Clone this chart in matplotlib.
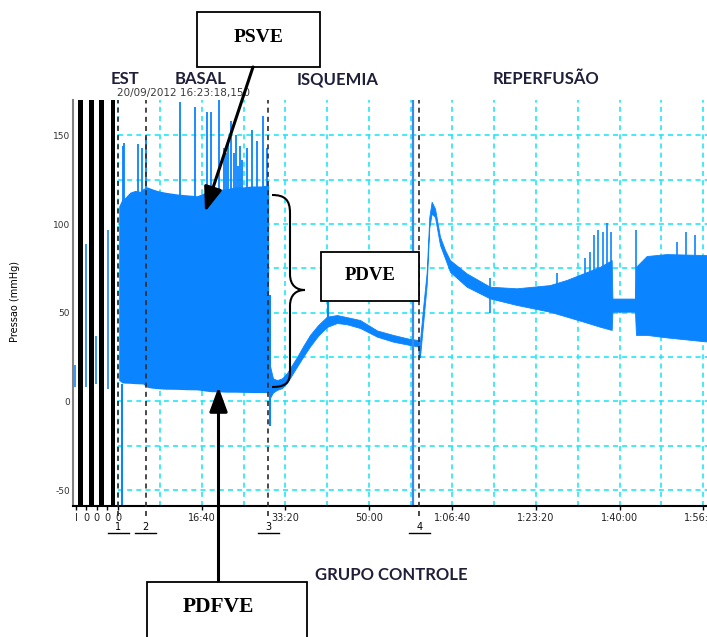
import matplotlib
matplotlib.use('Agg')
import matplotlib.pyplot as plt
from matplotlib.patches import Rectangle, PathPatch
from matplotlib.path import Path

# =========================
# DATA (time in s, pressure in mmHg)
# =========================
# compressed "EST" strip left of t = 0
bar_t = [-452, -323, -199, -63]
pre_t = [-518, -390, -267, -123]
pre_lo = [8, 8, 10, 7]
pre_hi = [20.5, 88.5, 37, 96.5]

# BASAL envelope
basal_t = [5, 44, 80, 140, 200, 260, 296, 344, 400, 464, 560, 704, 820, 944,
           1020, 1100, 1200, 1304, 1400, 1496, 1600, 1700, 1785, 1800]
basal_hi = [110, 114, 115, 118, 119, 118.5, 120, 121, 120, 119, 118, 117, 116.5, 116,
            117.5, 118.5, 119.5, 120, 121, 121, 121.5, 121.5, 122, 122]
basal_lo = [12, 10.5, 10.3, 10.2, 10, 9.9, 9.8, 8, 7.5, 7.2, 6.9, 6.8, 6.6, 6.5,
            6, 5.5, 5.4, 5.2, 5.2, 5.1, 5, 5, 5, 5]
basal_spk_t = [53, 68, 232, 284, 328, 739, 918, 1058, 1106, 1209, 1265, 1289, 1313,
               1345, 1385, 1409, 1433, 1457, 1481, 1537, 1597, 1657, 1736, 1776]
basal_spk = [144, 146, 145, 143, 149, 169, 166, 163, 163.5, 170, 143, 140, 145,
             158, 140, 150, 133, 144, 136, 143, 153, 147, 161, 143]

# ISQUEMIA envelope
isq_t = [1816, 1852, 1900, 1960, 2020, 2079, 2139, 2211, 2295, 2391, 2498, 2618,
         2738, 2894, 3098, 3289, 3492, 3600]
isq_hi = [20, 13, 12, 13, 16, 20.5, 25, 31, 37.5, 43, 47.8, 48.7,
          47.5, 45.9, 40, 37.5, 35.2, 34.6]
isq_lo = [2, 5, 6.5, 7.5, 10.4, 15, 19.6, 25, 31, 37, 42, 44.2,
          43.5, 41.4, 36.5, 33.7, 31.8, 30.9]

# REPERFUSAO envelope
rep_t = [3611, 3651, 3692, 3723, 3751, 3791, 3851, 3911, 3971, 4170, 4449, 4769,
         5164, 5367, 5566, 5766, 5906, 5915, 6185, 6197, 6325, 6564, 7060]
rep_hi = [34, 54, 73, 104, 112.6, 108.8, 92.9, 85.4, 79.7, 72.2, 64.7, 63.8,
          65.6, 68.5, 72.2, 75.9, 79.7, 58, 58, 75.9, 82, 83.1, 82.5]
rep_lo = [25, 45, 66, 98, 106, 104, 88.2, 80.7, 73.1, 64.7, 58.1, 54.4,
          50.6, 47.8, 45, 42.1, 40.3, 50.6, 50.6, 37.5, 37.5, 36.1, 33.7]
rep_spk_t = [4449, 5248, 5586, 5646, 5698, 5746, 5805, 5846, 5898, 6193, 6684, 6795, 6903]
rep_spk = [69.4, 72.2, 80.7, 84.4, 93.8, 96.6, 95.7, 100.4, 95.7, 96.6, 90, 95.7, 93.8]

# single excursions
drop_t = [44, 1815, 2510]
drop_lo = [-59, -14, 44]
drop_hi = [10, 60, 56]
blue_line_t = 3524

# event markers
marker_t = [0, 328, 1795, 3603]
marker_lbl = ['1', '2', '3', '4']

xtick_t = [-506, -387, -259, -132, 0, 1000, 2000, 3000, 4000, 5000, 6000, 7000]
xtick_lbl = ['I', '0', '0', '0', '0', '16:40', '33:20', '50:00',
             '1:06:40', '1:23:20', '1:40:00', '1:56:40']
ytick_v = [-50, 0, 50, 100, 150]

# =========================
# FIGURE
# =========================
W, H = 707, 637
fig = plt.figure(figsize=(W / 100, H / 100), dpi=100)
ax = fig.add_axes([73 / W, 1 - 506 / H, (W - 73) / W, 406 / H])

XMIN, XMAX = -542, 7047
YMIN, YMAX = -59, 170
ax.set_xlim(XMIN, XMAX)
ax.set_ylim(YMIN, YMAX)

BLUE = '#0a84ff'
CYAN = '#22e6f5'

# grid only on the recorded part
ax.vlines(range(0, 7001, 500), YMIN, YMAX, colors=CYAN, lw=1.2,
          linestyles=(0, (3, 2.5)), zorder=1)
ax.hlines(range(-50, 151, 25), 0, XMAX, colors=CYAN, lw=1.2,
          linestyles=(0, (3, 2.5)), zorder=1)

# compressed strip
ax.bar(bar_t, YMAX - YMIN, bottom=YMIN, width=54, color='black', zorder=3)
ax.vlines(pre_t, pre_lo, pre_hi, colors='#3d95f5', lw=1.4, zorder=3)

# signal
ax.fill_between(basal_t, basal_lo, basal_hi, color=BLUE, lw=0, zorder=2)
ax.vlines(basal_spk_t, 100, basal_spk, colors=BLUE, lw=1.3, zorder=2)
ax.fill_between(isq_t, isq_lo, isq_hi, color=BLUE, lw=0.6, edgecolor=BLUE, zorder=2)
ax.fill_between(rep_t, rep_lo, rep_hi, color=BLUE, lw=0.6, edgecolor=BLUE, zorder=2)
ax.vlines(rep_spk_t, 50, rep_spk, colors=BLUE, lw=1.2, zorder=2)
ax.vlines(drop_t, drop_lo, drop_hi, colors=BLUE, lw=1.5, zorder=2)
ax.plot([isq_t[-1], rep_t[0]], [isq_lo[-1], rep_lo[0]], color=BLUE, lw=1.5, zorder=2)
ax.axvline(blue_line_t, color='#3a8ae8', lw=1.6, zorder=2)

# markers
xt = ax.get_xaxis_transform()
for t, lbl in zip(marker_t, marker_lbl):
    ax.plot([t, t], [-0.025, 1], transform=xt, color='#2a2a2a', lw=1.2,
            ls=(0, (3, 2.5)), clip_on=False, zorder=4)
    ax.text(t, -0.052, lbl, transform=xt, ha='center', va='center', fontsize=7)
    ax.plot([t - 126, t + 126], [-0.0665, -0.0665], transform=xt, color='black',
            lw=1, clip_on=False)

# axes styling
for s in ['top', 'right']:
    ax.spines[s].set_visible(False)
ax.spines['left'].set_color('#808080')
ax.spines['left'].set_linewidth(1.5)
ax.spines['bottom'].set_linewidth(1.5)
ax.set_xticks(xtick_t)
ax.set_xticklabels(xtick_lbl, fontsize=7, color='#222222')
ax.set_yticks(ytick_v)
ax.set_yticklabels([str(v) for v in ytick_v], fontsize=6.5, color='#333333')
ax.tick_params(axis='x', length=3, width=1, pad=2)
ax.tick_params(axis='y', length=0, pad=2)

fig.text(15 / W, 1 - 302 / H, 'Pressao (mmHg)', rotation=90, fontsize=7,
         ha='center', va='center')

# =========================
# ANNOTATION LAYER (pixel coordinates)
# =========================
ov = fig.add_axes([0, 0, 1, 1], zorder=10)
ov.set_xlim(0, W)
ov.set_ylim(H, 0)
ov.axis('off')
ov.patch.set_alpha(0)

HEAD = dict(color='#1f1f3a', fontsize=12, fontweight='bold', family=['Lato', 'DejaVu Sans'],
            ha='center', va='baseline')
ov.text(124.5, 84.5, 'EST', **HEAD)
ov.text(200.5, 84.5, 'BASAL', **HEAD)
ov.text(338, 84.5, 'ISQUEMIA', **HEAD)
ov.text(546, 84.5, 'REPERFUSÃO', **HEAD)
ov.text(391, 580.5, 'GRUPO CONTROLE', **HEAD)
ov.text(117, 96, '20/09/2012 16:23:18,150', fontsize=7.5, color='#3b3b3b',
        ha='left', va='baseline')

SERIF = dict(family=['Liberation Serif', 'DejaVu Serif'], fontweight='bold',
             ha='center', va='center')
ov.add_patch(Rectangle((197, 12), 123, 55, fc='white', ec='black', lw=1.3))
ov.text(258.5, 38, 'PSVE', fontsize=14, **SERIF)
ov.add_patch(Rectangle((320.5, 251.5), 98, 49.5, fc='white', ec='black', lw=1.3))
ov.text(370, 275, 'PDVE', fontsize=13.5, **SERIF)
ov.add_patch(Rectangle((146.5, 581.5), 160, 80, fc='white', ec='black', lw=1.3))
ov.text(218, 607, 'PDFVE', fontsize=15.5, **SERIF)

ARW = dict(arrowstyle='-|>,head_length=1.5,head_width=0.55', color='black',
           lw=2.2, shrinkA=0, shrinkB=0, mutation_scale=10)
ov.annotate('', xy=(205, 212), xytext=(253, 67), arrowprops=ARW)
ov.annotate('', xy=(218.5, 387), xytext=(218.5, 581), arrowprops=ARW)

brace = Path(
    [(272, 195), (285, 195), (290, 200), (290, 213),
     (290, 274),
     (290, 286), (297, 290), (305, 290),
     (297, 290), (290, 294), (290, 306),
     (290, 372),
     (290, 383), (285, 387), (272, 387)],
    [Path.MOVETO, Path.CURVE4, Path.CURVE4, Path.CURVE4,
     Path.LINETO,
     Path.CURVE4, Path.CURVE4, Path.CURVE4,
     Path.CURVE4, Path.CURVE4, Path.CURVE4,
     Path.LINETO,
     Path.CURVE4, Path.CURVE4, Path.CURVE4])
ov.add_patch(PathPatch(brace, fc='none', ec='black', lw=1.5))

fig.savefig('out.png', dpi=100)
